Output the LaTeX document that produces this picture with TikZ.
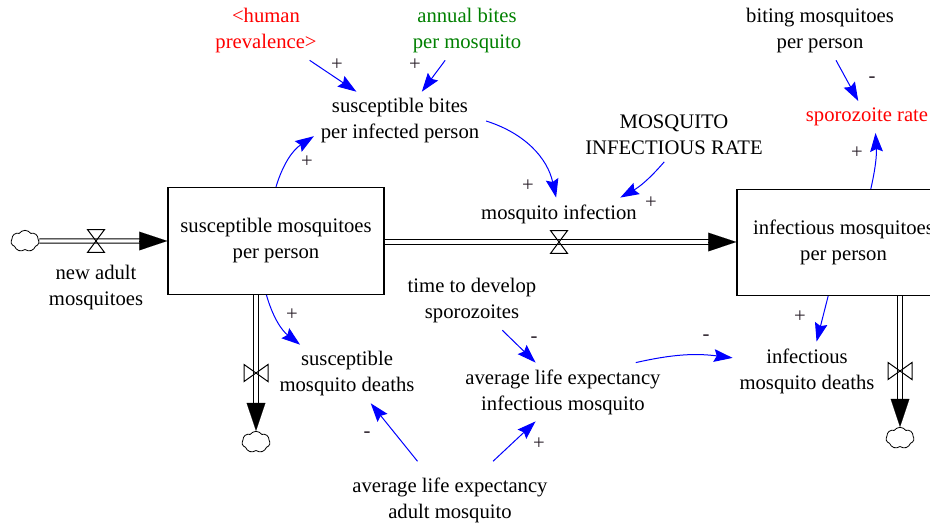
\documentclass[tikz,border=0pt]{standalone}
\usepackage{fontspec}
\setmainfont{Liberation Serif}
\usetikzlibrary{arrows.meta,shapes.symbols}
\definecolor{vgreen}{RGB}{0,128,0}
\definecolor{signc}{RGB}{40,30,40}
\tikzset{
  hvalve/.pic={\draw[line width=0.75pt] (-6.4pt,-8.6pt) -- (6.4pt,-8.6pt) -- (-6.4pt,8.6pt) -- (6.4pt,8.6pt) -- cycle;},
  vvalve/.pic={\draw[line width=0.75pt] (-9pt,-6.4pt) -- (-9pt,6.4pt) -- (9pt,-6.4pt) -- (9pt,6.4pt) -- cycle;}
}
\begin{document}
\begin{tikzpicture}[x=0.75pt,y=-0.75pt,
  txt/.style={font=\fontsize{15.5}{19.5}\selectfont, align=center, inner sep=5pt},
  stock/.style={txt, draw, line width=0.9pt, inner sep=0pt},
  link/.style={draw=blue, line width=0.75pt, -{Stealth[length=14pt,width=9.5pt,inset=2pt]}},
  sign/.style={font=\fontsize{15.5}{19.5}\selectfont, text=signc, inner sep=0pt},
  pipe/.style={draw, double, double distance=2.5pt, line width=0.8pt},
  flowtip/.style={-{Triangle[length=21pt,width=14pt]}, line width=0.1pt},
  cloudy/.style={cloud, draw, cloud puffs=7, cloud puff arc=110, aspect=1.3, minimum width=21pt, minimum height=16pt, inner sep=0pt, line width=0.6pt}
]
\useasboundingbox (0,0) rectangle (930,525);
\clip (0,0) rectangle (930,525);

% stocks
\node[stock, minimum width=162pt, minimum height=80.25pt] (box1) at (276,241) {susceptible mosquitoes\\per person};
\node[stock, minimum width=159.75pt, minimum height=79.5pt] (box2) at (843.5,242.5) {infectious mosquitoes\\per person};

% clouds
\node[cloudy] (cloudL) at (25,241) {};
\node[cloudy] (cloudS1) at (256,442) {};
\node[cloudy] (cloudS2) at (900,438) {};

% valves
\coordinate (vL) at (96,241);
\coordinate (vM) at (559,242);
\coordinate (v1) at (256,373);
\coordinate (v2) at (900,371);
\coordinate (m1) at (box1.east |- vM);
\coordinate (m2) at (box2.west |- vM);

% flows
\draw[pipe] (cloudL) -- ([xshift=-20pt]box1.west);
\draw[flowtip] ([xshift=-21pt]box1.west) -- (box1.west);
\draw[pipe] (m1) -- ([xshift=-20pt]m2);
\draw[flowtip] ([xshift=-21pt]m2) -- (m2);
\draw[pipe] (v1 |- box1.south) -- ([yshift=20pt]cloudS1.north);
\draw[flowtip] ([yshift=21pt]cloudS1.north) -- (cloudS1.north);
\draw[pipe] (v2 |- box2.south) -- ([yshift=20pt]cloudS2.north);
\draw[flowtip] ([yshift=21pt]cloudS2.north) -- (cloudS2.north);
\pic at (vL) {hvalve};
\pic at (vM) {hvalve};
\pic at (v1) {vvalve};
\pic at (v2) {vvalve};

% variables
\node[txt, text=red] (hp) at (266,31) {<human\\prevalence>};
\node[txt, text=vgreen] (ab) at (467,31) {annual bites\\per mosquito};
\node[txt] (sb) at (400,121) {susceptible bites\\per infected person};
\node[txt] (mir) at (674,135) {MOSQUITO\\INFECTIOUS RATE};
\node[txt] (bm) at (820,31) {biting mosquitoes\\per person};
\node[txt, text=red] (sr) at (867,117) {sporozoite rate};
\node[txt] (mi) at (559,214) {mosquito infection};
\node[txt] (nam) at (96,288) {new adult\\mosquitoes};
\node[txt] (sd) at (347,374) {susceptible\\mosquito deaths};
\node[txt] (ttd) at (472,301) {time to develop\\sporozoites};
\node[txt] (ali) at (563,392) {average life expectancy\\infectious mosquito};
\node[txt] (idf) at (807,371) {infectious\\mosquito deaths};
\node[txt, inner ysep=12pt] (ala) at (450,500) {average life expectancy\\adult mosquito};

% links
\draw[link] (hp) -- (sb);
\draw[link] (ab) -- (sb);
\draw[link] (box1.north) to[bend left=20] (sb.190);
\draw[link] (sb.east) to[bend left=30] (mi.100);
\draw[link] (mir.250) to[bend left=10] (mi.15);
\draw[link] (bm) -- (sr);
\draw[link] (box2.63) to[bend right=8] (sr.-62);
\draw[link] (box1.260) to[bend right=18] (sd.148);
\draw[link] (ala.130) -- (sd.-51);
\draw[link] (ala.42) -- (ali.227);
\draw[link] (ttd.-44) -- (ali.133);
\draw[link] (ali.22) to[bend left=10] (idf.170);
\draw[link] (box2.-106) -- (idf.72);

% signs
\node[sign] (s1) at (337,65) {+};
\node[sign] (s2) at (415,65) {+};
\node[sign] (s3) at (307,162) {+};
\node[sign] (s4) at (528,186) {+};
\node[sign] (s5) at (651,203) {+};
\node[sign] (s6) at (872,80) {-};
\node[sign] (s7) at (857,153) {+};
\node[sign] (s8) at (292,315) {+};
\node[sign] (s9) at (367,435) {-};
\node[sign] (s10) at (539,444) {+};
\node[sign] (s11) at (534,340) {-};
\node[sign] (s12) at (706,338) {-};
\node[sign] (s13) at (800,317) {+};
\end{tikzpicture}
\end{document}
